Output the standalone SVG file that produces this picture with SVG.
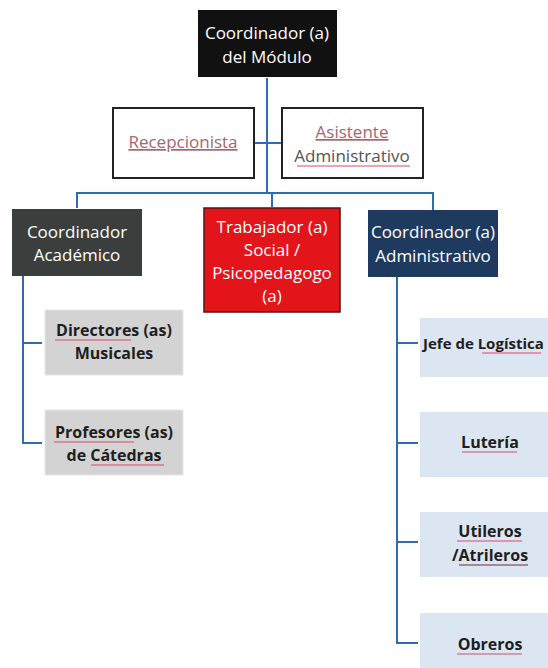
<svg xmlns="http://www.w3.org/2000/svg" width="548" height="668" viewBox="0 0 548 668">
<style>
text{font-family:"Open Sans","Noto Sans",sans-serif;font-size:17px;text-anchor:middle}
.w{fill:#ffffff}
.b{fill:#1e1e1e;font-weight:bold;font-size:16px}
.m{fill:#a5666f;text-decoration:underline}
.g{fill:#555555}
.con{stroke:#2f6db3;stroke-width:2;fill:none}
.sq{stroke:#d9486a;stroke-width:1;fill:none}
.gray{fill:#d3d3d3;stroke:#e6e6e6;stroke-width:1}
.blue{fill:#dce6f2}
</style>
<rect width="548" height="668" fill="#ffffff"/>
<g id="connectors">
<path class="con" d="M267 78V193"/>
<path class="con" d="M254 143H282"/>
<path class="con" d="M77 193H433M77 192V208M272 192V207M433 192V210"/>
<path class="con" d="M23 276V443H42M23 343H42"/>
<path class="con" d="M397 277V643H418M397 343H418M397 443H418M397 542H418"/>
</g>
<g id="coordinador-modulo">
<rect x="198" y="10" width="139" height="67" fill="#111111"/>
<text class="w" x="267" y="39">Coordinador (a)</text>
<text class="w" x="267" y="63">del Módulo</text>
</g>
<g id="recepcionista">
<rect x="113" y="108" width="141" height="70" fill="#ffffff" stroke="#222" stroke-width="2"/>
<text class="m" x="183" y="148">Recepcionista</text>
</g>
<g id="asistente">
<rect x="282" y="108" width="141" height="70" fill="#ffffff" stroke="#222" stroke-width="2"/>
<text class="m" x="352" y="138">Asistente</text>
<text class="g" x="352" y="162">Administrativo</text>
<path class="sq" d="M297 166H410"/>
</g>
<g id="coordinador-academico">
<rect x="12" y="209" width="130" height="67" fill="#3a3e3d"/>
<text class="w" x="77" y="238">Coordinador</text>
<text class="w" x="77" y="261">Académico</text>
</g>
<g id="trabajador-social">
<rect x="204" y="208" width="136" height="104" fill="#e3151b" stroke="#5a1010" stroke-width="1.5"/>
<text class="w" x="272" y="233">Trabajador (a)</text>
<text class="w" x="272" y="256">Social /</text>
<text class="w" x="272" y="279">Psicopedagogo</text>
<text class="w" x="272" y="302">(a)</text>
</g>
<g id="coordinador-administrativo">
<rect x="368" y="210" width="130" height="67" fill="#1f3a5f"/>
<text class="w" x="433" y="238">Coordinador (a)</text>
<text class="w" x="433" y="262">Administrativo</text>
</g>
<g id="directores">
<rect class="gray" x="45" y="310" width="138" height="65"/>
<text class="b" x="114" y="336">Directores (as)</text>
<text class="b" x="114" y="359">Musicales</text>
<path class="sq" d="M55 340H131"/>
</g>
<g id="profesores">
<rect class="gray" x="45" y="410" width="138" height="65"/>
<text class="b" x="114" y="438">Profesores (as)</text>
<text class="b" x="114" y="461">de Cátedras</text>
<path class="sq" d="M54 442H134M91 465H164"/>
</g>
<g id="jefe-logistica">
<rect class="blue" x="420" y="318" width="128" height="59"/>
<text class="b" x="423" y="349" style="text-anchor:start;font-size:15px">Jefe de Logística</text>
<path class="sq" d="M482 353H541"/>
</g>
<g id="luteria">
<rect class="blue" x="420" y="412" width="128" height="65"/>
<text class="b" x="490" y="448">Lutería</text>
<path class="sq" d="M462 452H517"/>
</g>
<g id="utileros">
<rect class="blue" x="420" y="512" width="128" height="65"/>
<text class="b" x="490" y="537">Utileros</text>
<text class="b" x="490" y="561">/Atrileros</text>
<path class="sq" d="M457 541H522"/>
<path d="M459 565H528" stroke="#6a2a3a" stroke-width="1"/>
</g>
<g id="obreros">
<rect class="blue" x="420" y="613" width="128" height="55"/>
<text class="b" x="490" y="650">Obreros</text>
<path class="sq" d="M457 654H522"/>
</g>
</svg>
